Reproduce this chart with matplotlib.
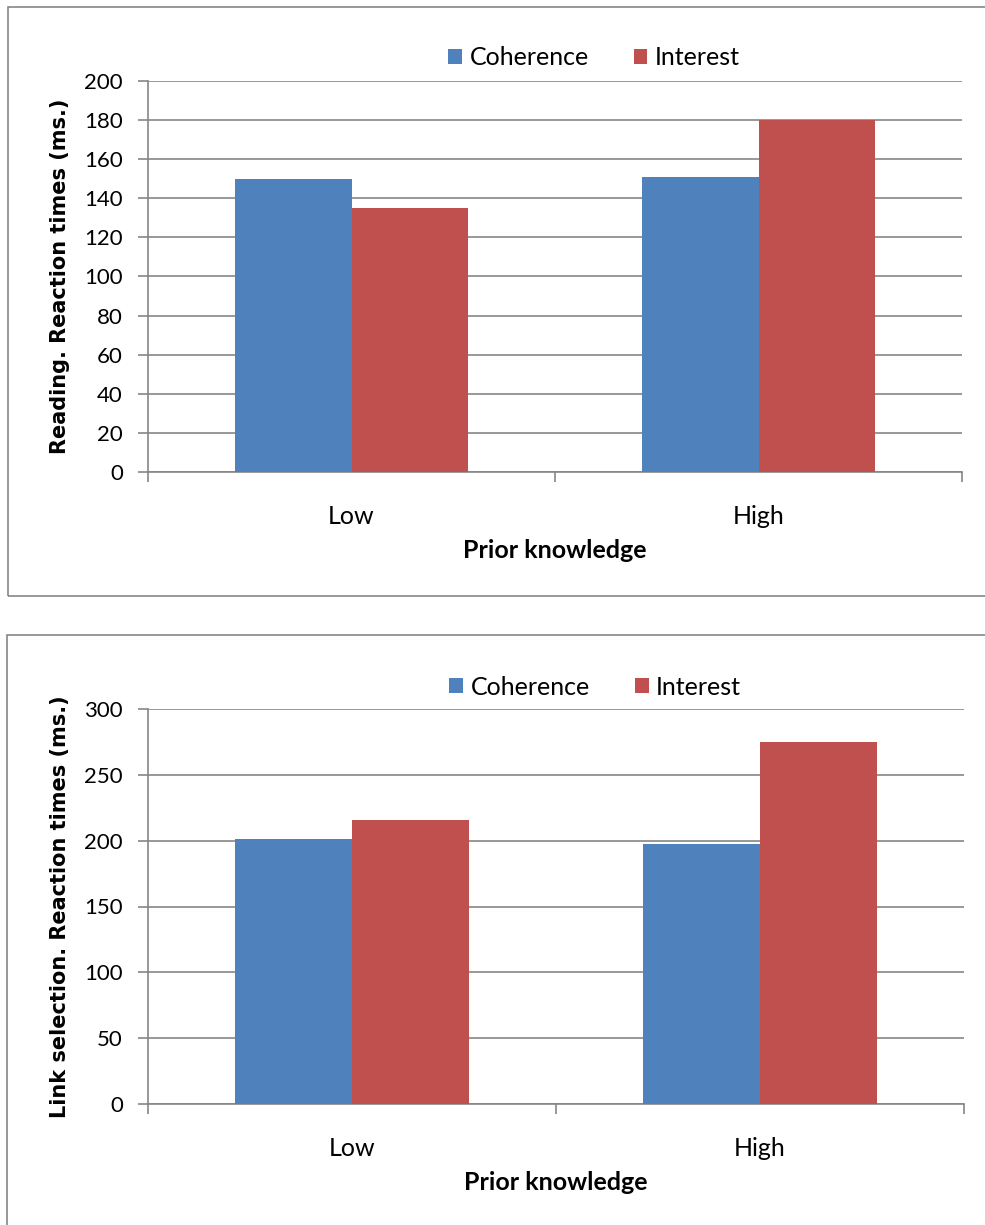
import matplotlib
matplotlib.use("Agg")
import matplotlib.pyplot as plt
from matplotlib.patches import Rectangle
import numpy as np

categories = ["Low", "High"]
series_names = ["Coherence", "Interest"]
reading_coherence = [150, 151]
reading_interest = [135, 180]
link_coherence = [201, 197.5]
link_interest = [216, 275]

colors = ["#4F81BD", "#C0504D"]
grid_c = "#868686"
plt.rcParams['font.family'] = ['Lato', 'DejaVu Sans']

fig = plt.figure(figsize=(9.85, 12.25), dpi=100)
W, H = 985, 1225

def fx(px):
    return px / W

def fy(py):
    return 1 - py / H

# panel borders
for (x0, y0, x1, y1) in [(8, 7, 990, 596), (7, 635, 990, 1230)]:
    fig.patches.append(Rectangle((fx(x0), fy(y1)), fx(x1 - x0), (y1 - y0) / H,
                                 transform=fig.transFigure, fill=False,
                                 edgecolor=grid_c, linewidth=1.2))

def make(ax, c_vals, i_vals, ymax, step, ylabel, legend_y):
    x = np.arange(len(categories))
    w = 0.286
    ax.bar(x - w / 2, c_vals, w, color=colors[0], label=series_names[0], zorder=3)
    ax.bar(x + w / 2, i_vals, w, color=colors[1], label=series_names[1], zorder=3)
    ax.set_xlim(-0.5, len(categories) - 0.5)
    ax.set_ylim(0, ymax)
    ax.set_yticks(np.arange(0, ymax + 1, step))
    ax.yaxis.grid(True, color=grid_c, linewidth=1.2, zorder=0)
    ax.set_axisbelow(True)
    for s in ["top", "right"]:
        ax.spines[s].set_visible(False)
    for s in ["left", "bottom"]:
        ax.spines[s].set_color(grid_c)
        ax.spines[s].set_linewidth(1.2)
    ax.set_xticks(x)
    ax.set_xticklabels(categories, fontsize=18)
    ax.set_xticks(np.arange(-0.5, len(categories), 1.0), minor=True)
    ax.tick_params(axis='x', which='major', length=0, pad=24)
    ax.tick_params(axis='x', which='minor', length=7, color=grid_c, width=1.2)
    ax.tick_params(axis='y', length=7, color=grid_c, width=1.2, labelsize=16, pad=11)
    ax.set_xlabel("Prior knowledge", fontsize=18, fontweight='bold', labelpad=8)
    ax.set_ylabel(ylabel, fontsize=15, fontweight='bold', labelpad=10,
                  family='DejaVu Sans')
    ax.legend(loc='center', bbox_to_anchor=(0.548, legend_y), ncol=2,
              frameon=False, fontsize=18, handlelength=0.55, handleheight=0.55,
              handletextpad=0.3, columnspacing=1.8)

ax1 = fig.add_axes([fx(148), fy(472), fx(962 - 148), (472 - 81) / H])
make(ax1, reading_coherence, reading_interest, 200, 20,
     "Reading. Reaction times (ms.)", (472 - 58) / 391)

ax2 = fig.add_axes([fx(148), fy(1104), fx(964 - 148), (1104 - 709) / H])
make(ax2, link_coherence, link_interest, 300, 50,
     "Link selection. Reaction times (ms.)", (1104 - 687) / 395)

fig.savefig("out.png", dpi=100)
